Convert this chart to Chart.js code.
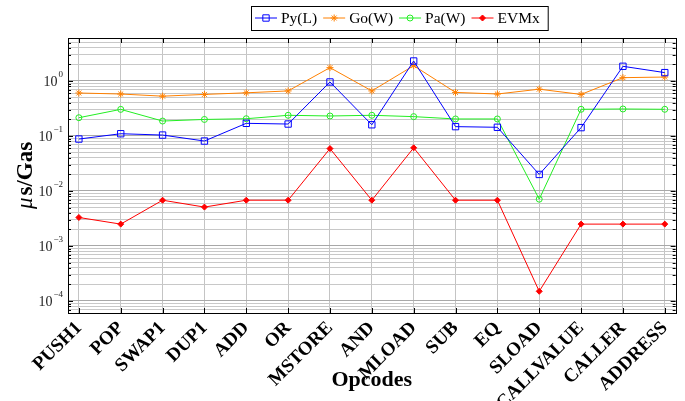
<!DOCTYPE html>
<html>
<head>
<meta charset="utf-8">
<script src="https://cdn.jsdelivr.net/npm/chart.js@4.4.0/dist/chart.umd.min.js"></script>
<style>
	html, body { margin: 0; padding: 0; background: #fff; }
	#wrap { width: 685px; height: 401px; }
</style>
</head>
<body>
<div id="wrap"><canvas id="chart"></canvas></div>
<script>
const opcodes = ['PUSH1', 'POP', 'SWAP1', 'DUP1', 'ADD', 'OR', 'MSTORE', 'AND', 'MLOAD', 'SUB', 'EQ', 'SLOAD', 'CALLVALUE', 'CALLER', 'ADDRESS']
const pyL = [0.088, 0.11, 0.104, 0.081, 0.17, 0.165, 0.96, 0.16, 2.31, 0.148, 0.144, 0.02, 0.142, 1.85, 1.42]
const goW = [0.605, 0.58, 0.53, 0.57, 0.61, 0.66, 1.75, 0.66, 1.9, 0.62, 0.58, 0.71, 0.57, 1.15, 1.18]
const paW = [0.215, 0.305, 0.187, 0.2, 0.206, 0.238, 0.231, 0.238, 0.225, 0.204, 0.204, 0.0071, 0.306, 0.31, 0.306]
const evmx = [0.0033, 0.0025, 0.0068, 0.0051, 0.0068, 0.0068, 0.059, 0.0068, 0.061, 0.0068, 0.0068, 0.00015, 0.0025, 0.0025, 0.0025]
const yDecades = [-4, -3, -2, -1, 0]

const serif = '"Liberation Serif", "Times New Roman", serif'

function toPoints(values) {
	return values.map((v, i) => ({ x: i, y: v }))
}

function isDecade(v) {
	let e = Math.log10(v)
	return Math.abs(e - Math.round(e)) < 1e-9
}

// legend with line + marker samples, like pgfplots
const legendBox = {
	id: 'legendBox',
	afterDraw(chart) {
		const ctx = chart.ctx
		ctx.save()
		ctx.textBaseline = 'middle'
		ctx.textAlign = 'left'
		let y = 18
		let x = 255
		chart.data.datasets.forEach(function (d) {
			ctx.strokeStyle = d.borderColor
			ctx.lineWidth = 1
			ctx.beginPath()
			ctx.moveTo(x, y)
			ctx.lineTo(x + 22, y)
			ctx.stroke()
			ctx.fillStyle = d.pointBackgroundColor
			ctx.strokeStyle = d.pointBorderColor
			Chart.helpers.drawPoint(ctx, { pointStyle: d.pointStyle, radius: d.pointRadius, borderWidth: 1, rotation: 0 }, x + 11, y)
			ctx.font = '15.5px ' + serif
			ctx.fillStyle = '#000'
			ctx.fillText(d.label, x + 26, y + 1)
			x += 26 + ctx.measureText(d.label).width + 6
		})
		ctx.strokeStyle = '#000'
		ctx.lineWidth = 1
		ctx.strokeRect(251.5, 6.5, x + 2 - 251, 24)
		ctx.restore()
	},
}

// axis frame, inner ticks, y tick labels (10^n) and y title
const frame = {
	id: 'frame',
	afterDraw(chart) {
		const ctx = chart.ctx
		const a = chart.chartArea
		const ys = chart.scales.y
		const xs = chart.scales.x
		ctx.save()
		ctx.strokeStyle = '#000'
		ctx.lineWidth = 1
		ctx.beginPath()
		ys.ticks.forEach(function (t) {
			let py = Math.round(ys.getPixelForValue(t.value)) + 0.5
			let len = isDecade(t.value) ? 5 : 3
			ctx.moveTo(a.left, py)
			ctx.lineTo(a.left + len, py)
			ctx.moveTo(a.right, py)
			ctx.lineTo(a.right - len, py)
		})
		xs.ticks.forEach(function (t) {
			let px = Math.round(xs.getPixelForValue(t.value)) + 0.5
			ctx.moveTo(px, a.bottom)
			ctx.lineTo(px, a.bottom - 5)
			ctx.moveTo(px, a.top)
			ctx.lineTo(px, a.top + 5)
		})
		ctx.stroke()
		ctx.strokeRect(Math.round(a.left) + 0.5, Math.round(a.top) + 0.5, Math.round(a.right - a.left), Math.round(a.bottom - a.top))

		ctx.fillStyle = '#222'
		ctx.textBaseline = 'middle'
		yDecades.forEach(function (e) {
			let py = ys.getPixelForValue(Math.pow(10, e))
			let exp = e < 0 ? '\u2212' + Math.abs(e) : String(e)
			ctx.font = '9px ' + serif
			let ew = ctx.measureText(exp).width
			let right = 63
			ctx.textAlign = 'right'
			ctx.fillText(exp, right, py - 6)
			ctx.font = '14px ' + serif
			ctx.fillText('10', right - ew - 1, py + 1)
		})

		ctx.translate(26, (a.top + a.bottom) / 2)
		ctx.rotate(-Math.PI / 2)
		ctx.fillStyle = '#000'
		ctx.textAlign = 'left'
		ctx.font = 'italic 23px ' + serif
		let mu = '\u03bc'
		let muW = ctx.measureText(mu).width
		ctx.font = 'bold 23px ' + serif
		let rest = 's/Gas'
		let restW = ctx.measureText(rest).width
		let start = -(muW + 2 + restW) / 2
		ctx.font = 'italic 23px ' + serif
		ctx.fillText(mu, start, 0)
		ctx.font = 'bold 23px ' + serif
		ctx.fillText(rest, start + muW + 2, 0)
		ctx.restore()
	},
}

let data = {
	datasets: [
		{
			label: 'Py(L)',
			data: toPoints(pyL),
			borderColor: '#0000ff',
			pointBorderColor: '#0000ff',
			pointBackgroundColor: 'rgba(0,0,0,0)',
			pointStyle: 'rect',
			pointRadius: 4.5,
		},
		{
			label: 'Go(W)',
			data: toPoints(goW),
			borderColor: '#ff8000',
			pointBorderColor: '#ff8000',
			pointBackgroundColor: '#ff8000',
			pointStyle: 'star',
			pointRadius: 3.5,
		},
		{
			label: 'Pa(W)',
			data: toPoints(paW),
			borderColor: '#22ee22',
			pointBorderColor: '#22ee22',
			pointBackgroundColor: 'rgba(0,0,0,0)',
			pointStyle: 'circle',
			pointRadius: 3,
		},
		{
			label: 'EVMx',
			data: toPoints(evmx),
			borderColor: '#ff0000',
			pointBorderColor: '#ff0000',
			pointBackgroundColor: '#ff0000',
			pointStyle: 'rectRot',
			pointRadius: 3,
		},
	],
}

data.datasets.forEach(function (d) {
	d.borderWidth = 1
	d.pointBorderWidth = 1
	d.tension = 0
	d.fill = false
})

let options = {
	responsive: false,
	animation: false,
	layout: {
		padding: { top: 38, right: 5, left: 0, bottom: 0 },
	},
	plugins: {
		legend: { display: false },
		tooltip: { enabled: false },
	},
	scales: {
		x: {
			type: 'linear',
			min: -0.26,
			max: 14.26,
			afterBuildTicks: function (scale) {
				scale.ticks = opcodes.map((_, i) => ({ value: i }))
			},
			afterFit: function (scale) {
				scale.height = 88
			},
			grid: { color: '#c4c4c4', lineWidth: 1, drawTicks: false },
			border: { display: false },
			ticks: {
				autoSkip: false,
				minRotation: 45,
				maxRotation: 45,
				padding: 4,
				color: '#000',
				font: { family: serif, size: 19, weight: 'bold' },
				callback: function (value) {
					return opcodes[value]
				},
			},
			title: {
				display: true,
				text: 'Opcodes',
				color: '#000',
				font: { family: serif, size: 22, weight: 'bold' },
				padding: { top: 0, bottom: 7 },
			},
		},
		y: {
			type: 'logarithmic',
			min: 6.05e-5,
			max: 6.05,
			afterBuildTicks: function (scale) {
				let ticks = []
				for (let e = -5; e <= 0; e++) {
					for (let m = 1; m <= 9; m++) {
						let v = m * Math.pow(10, e)
						if (v > scale.min && v < scale.max) ticks.push({ value: v })
					}
				}
				scale.ticks = ticks
			},
			afterFit: function (scale) {
				scale.width = 68
			},
			grid: {
				drawTicks: false,
				lineWidth: 1,
				color: function (ctx) {
					return ctx.tick && isDecade(ctx.tick.value) ? '#a8a8a8' : '#c8c8c8'
				},
			},
			border: { display: false },
			ticks: { display: false, autoSkip: false },
		},
	},
}

let canvas = document.getElementById('chart')
canvas.width = 685
canvas.height = 401

let chart = new Chart(canvas, {
	type: 'line',
	data: data,
	options: options,
	plugins: [legendBox, frame],
})
</script>
</body>
</html>
